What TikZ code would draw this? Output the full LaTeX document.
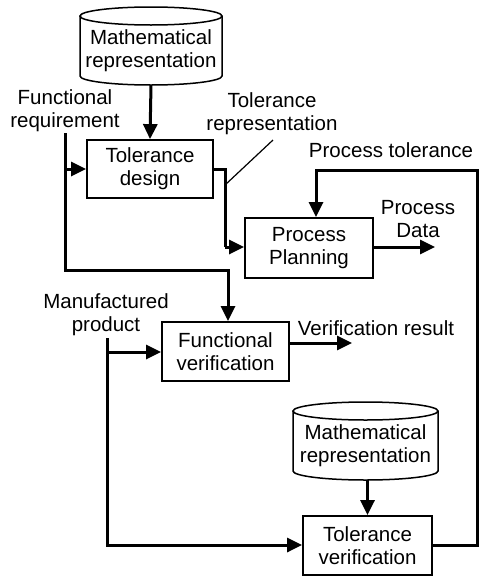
\documentclass[tikz,border=0pt]{standalone}
\usepackage{fontspec}
\setmainfont{Liberation Sans}
\usetikzlibrary{arrows.meta}
\tikzset{
  box/.style={draw, line width=1.8pt, inner sep=0pt, align=center},
  lbl/.style={inner sep=0pt, align=center},
  conn/.style={line width=3pt, -{Triangle[length=15pt,width=14pt]}},
  plain/.style={line width=3pt},
  cyl/.style={line width=1.5pt},
}
\begin{document}
\begin{tikzpicture}[x=1pt,y=-1pt,font=\fontsize{20.5}{23}\selectfont]
\useasboundingbox (0,0) rectangle (479,576);
% cylinder 1
\draw[cyl] (151,16) ellipse[x radius=71,y radius=9];
\draw[cyl] (80,16) -- (80,76) arc[start angle=180,end angle=0,x radius=71,y radius=9] -- (222,16);
\node[lbl] (m1) at (151,51) {Mathematical\\representation};
\coordinate (m1b) at (151,85);
% cylinder 2
\draw[cyl] (365.5,411) ellipse[x radius=72.5,y radius=9];
\draw[cyl] (293,411) -- (293,471) arc[start angle=180,end angle=0,x radius=72.5,y radius=9] -- (438,411);
\node[lbl] (m2) at (365.5,446) {Mathematical\\representation};
\coordinate (m2b) at (367.5,480);
% boxes
\node[box, minimum width=126, minimum height=58] (td) at (150,169) {Tolerance\\design};
\node[box, minimum width=128, minimum height=60] (pp) at (309,248) {Process\\Planning};
\node[box, minimum width=127, minimum height=59] (fv) at (225.5,351.5) {Functional\\verification};
\node[box, minimum width=129, minimum height=59] (tv) at (367.5,545.5) {Tolerance\\verification};
% labels
\node[lbl] (fr) at (65,111) {Functional\\requirement};
\node[lbl] (tr) at (272,114) {Tolerance\\representation};
\node[lbl] (pt) at (391,150) {Process tolerance};
\node[lbl] (pd) at (418,219) {Process\\Data};
\node[lbl] (vr) at (376,328) {Verification result};
\node[lbl] (mp) at (106,315) {Manufactured\\product};
% coordinates
\coordinate (frs) at (65,133);
\coordinate (frc) at (65,270);
\coordinate (frb) at (65,169);
\coordinate (tdo) at (225,169);
\coordinate (tdd) at (225,247);
\coordinate (mps) at (107,338);
\coordinate (mpc) at (107,545);
\coordinate (mpb) at (107,352);
\coordinate (fbr) at (477,545);
\coordinate (fbt) at (477,170);
\coordinate (pdo) at (435,247);
\coordinate (vro) at (352,343);
\coordinate (fvin) at ([xshift=2.5pt]fv.north);
\coordinate (ppin) at ([xshift=7pt]pp.north);
% connectors
\draw[conn] (m1b) -- (td.north);
\draw[conn] (frs) -- (frc) -| (fvin);
\draw[conn] (frb) -- (td.west);
\draw[plain] (td.east |- tdo) -- (tdo) -- (tdd);
\draw[conn] (tdd) -- (pp.west |- tdd);
\draw[line width=1.2pt] (225,185) -- (273,140);
\draw[conn] (pp.east |- pdo) -- (pdo);
\draw[conn] (tv.east |- fbr) -- (fbr) -- (fbt) -| (ppin);
\draw[conn] (mps) -- (mpc) -- (tv.west |- mpc);
\draw[conn] (mpb) -- (fv.west |- mpb);
\draw[conn] (fv.east |- vro) -- (vro);
\draw[conn] (m2b) -- (tv.north);
\end{tikzpicture}
\end{document}
